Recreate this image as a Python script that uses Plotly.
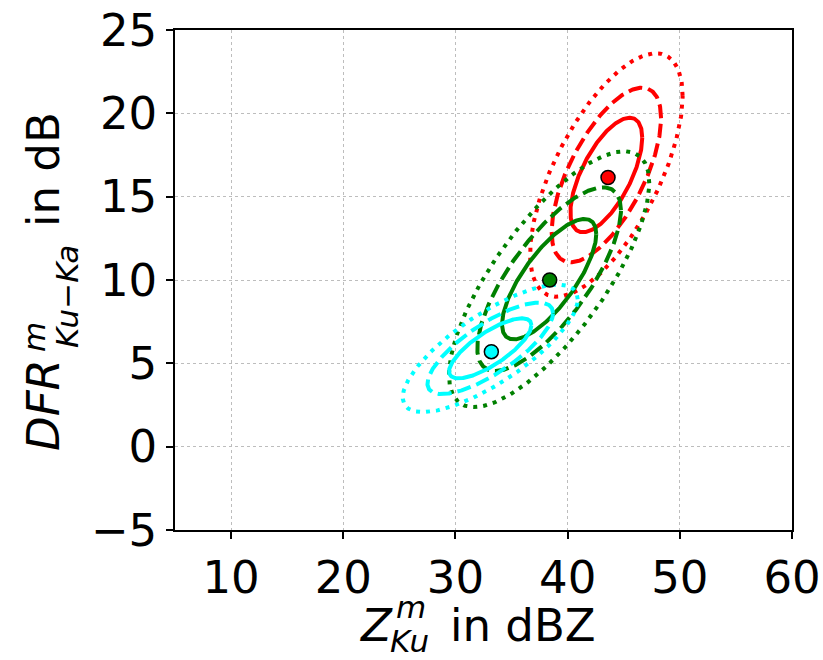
import numpy as np
import plotly.graph_objects as go

# ---------------- data ----------------
group_names = ["red", "green", "cyan"]
group_colors = ["#ff0000", "#008000", "#00ffff"]
marker_x = [43.6, 38.4, 33.2]
marker_y = [16.15, 10.0, 5.7]
ellipse_cx = [43.45, 38.35, 33.1]
ellipse_cy = [16.3, 10.05, 5.9]
sigma_x = [2.72, 3.57, 3.12]
sigma_y = [2.92, 3.07, 1.53]
corr = [0.65, 0.75, 0.77]
contour_k = [1.177, 1.794, 2.5]          # 50 %, 80 %, 95 % contours
contour_dash = ["solid", "14px,6px", "4px,6px"]

x_ticks = [10, 20, 30, 40, 50, 60]
x_ticktext = ["10", "20", "30", "40", "50", "60"]
y_ticks = [-5, 0, 5, 10, 15, 20, 25]
y_ticktext = ["\u22125", "0", "5", "10", "15", "20", "25"]
x_range = [5, 60]
y_range = [-5, 25]

FONT = "DejaVu Sans"

fig = go.Figure()

t = np.linspace(0, 2 * np.pi, 361)
for i in range(len(group_names)):
    for k, dash in zip(contour_k, contour_dash):
        ex = ellipse_cx[i] + k * sigma_x[i] * np.cos(t)
        ey = ellipse_cy[i] + k * sigma_y[i] * (corr[i] * np.cos(t) + np.sqrt(1 - corr[i] ** 2) * np.sin(t))
        fig.add_trace(go.Scatter(x=ex, y=ey, mode="lines",
                                 line=dict(color=group_colors[i], width=4, dash=dash),
                                 hoverinfo="skip", showlegend=False))

for i in range(len(group_names)):
    fig.add_trace(go.Scatter(x=[marker_x[i]], y=[marker_y[i]], mode="markers",
                             marker=dict(color=group_colors[i], size=14,
                                         line=dict(color="black", width=1.5)),
                             showlegend=False, name=group_names[i]))

L, R, T, B = 175, 31, 30, 130
W, H = 823, 660
PW, PH = W - L - R, H - T - B


def px(xp):
    return (xp - L) / PW


def py(yp):
    return (H - B - yp) / PH


axis_common = dict(showline=True, linecolor="black", linewidth=1.5, mirror=True,
                   ticks="outside", ticklen=7, tickwidth=1.5, tickcolor="black",
                   showgrid=True, gridcolor="#bdbdbd", gridwidth=1, griddash="dot",
                   zeroline=False, automargin=False,
                   tickfont=dict(family=FONT, size=45, color="black"))

fig.update_xaxes(range=x_range, tickvals=x_ticks, ticktext=x_ticktext, **axis_common)
fig.update_yaxes(range=y_range, tickvals=y_ticks, ticktext=y_ticktext, **axis_common)

ann = []
main = dict(family=FONT, size=45, color="black")
small = dict(family=FONT, size=31, color="black")
# x title
ann.append(dict(text="<i>Z</i>", x=px(395), y=py(625), xanchor="right", yanchor="middle", font=main))
ann.append(dict(text="<i>m</i>", x=px(394), y=py(607), xanchor="left", yanchor="middle", font=small))
ann.append(dict(text="<i>Ku</i>", x=px(389), y=py(660), xanchor="left", yanchor="bottom", borderpad=0, font=small))
ann.append(dict(text="in dBZ", x=px(448), y=py(625), xanchor="left", yanchor="middle", font=main))
# y title
ann.append(dict(text="<i>DFR</i>", x=px(43), y=py(405), xanchor="center", yanchor="middle", textangle=-90, font=main))
ann.append(dict(text="<i>m</i>", x=px(34), y=py(337), xanchor="center", yanchor="middle", textangle=-90, font=small))
ann.append(dict(text="<i>Ku</i>\u2212<i>Ka</i>", x=px(67), y=py(296), xanchor="center", yanchor="middle", textangle=-90, font=small))
ann.append(dict(text="in dB", x=px(43), y=py(170), xanchor="center", yanchor="middle", textangle=-90, font=main))
for a in ann:
    a.update(xref="paper", yref="paper", showarrow=False)

fig.update_layout(width=W, height=H, margin=dict(l=L, r=R, t=T, b=B, autoexpand=False),
                  plot_bgcolor="white", paper_bgcolor="white",
                  annotations=ann, showlegend=False)

fig.write_html("out.html")
